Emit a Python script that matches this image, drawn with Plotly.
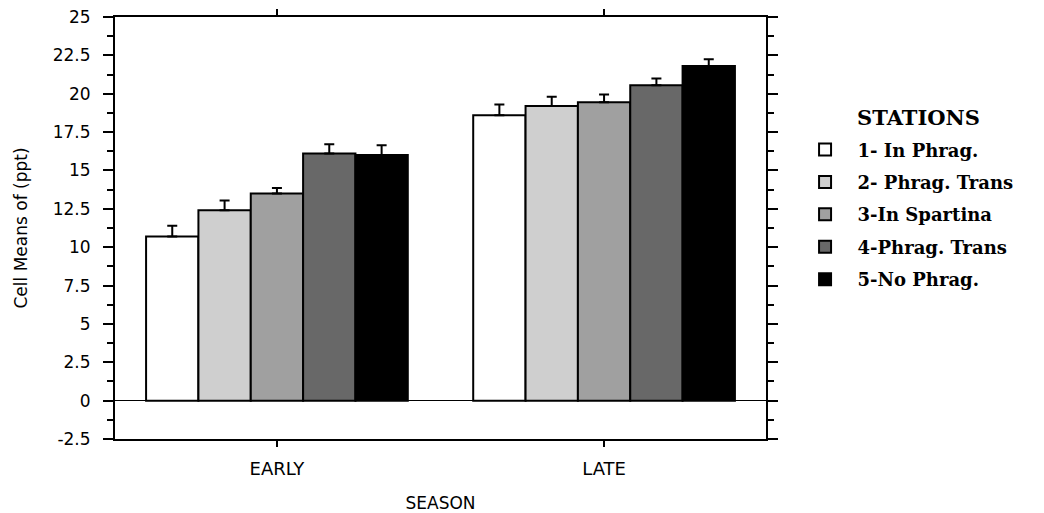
import plotly.graph_objects as go

seasons = ["EARLY", "LATE"]
stations = ["1- In Phrag.", "2- Phrag. Trans", "3-In Spartina", "4-Phrag. Trans", "5-No Phrag."]
early_means = [10.7, 12.4, 13.5, 16.1, 16.0]
late_means = [18.6, 19.2, 19.45, 20.55, 21.8]
early_err = [0.7, 0.65, 0.35, 0.6, 0.65]
late_err = [0.7, 0.6, 0.5, 0.45, 0.45]
colors = ["#ffffff", "#cfcfcf", "#a0a0a0", "#686868", "#000000"]
ytick_vals = [-2.5, 0, 2.5, 5, 7.5, 10, 12.5, 15, 17.5, 20, 22.5, 25]
ytick_text = ["-2.5", "0", "2.5", "5", "7.5", "10", "12.5", "15", "17.5", "20", "22.5", "25"]

fig = go.Figure()
for i, name in enumerate(stations):
    fig.add_trace(go.Bar(
        x=seasons, y=[early_means[i], late_means[i]],
        name="\u00a0\u00a0" + name, legendgroup=f"g{i}",
        marker=dict(color=colors[i], line=dict(color="black", width=2)),
        error_y=dict(type="data", symmetric=False, array=[early_err[i], late_err[i]],
                     arrayminus=[0, 0], color="black", thickness=2, width=5),
    ))

axis_font = "DejaVu Sans"
fig.update_layout(
    width=1044, height=513,
    margin=dict(l=115, r=278, t=17, b=74, autoexpand=False),
    paper_bgcolor="white", plot_bgcolor="white",
    barmode="group", bargap=0.2, bargroupgap=0,
    font=dict(family=axis_font, color="black", size=15),
    showlegend=True,
    legend=dict(
        x=1.06, y=0.729, xanchor="left", yanchor="top",
        font=dict(family="DejaVu Serif", size=18, color="black", weight="bold"),
        itemsizing="constant", tracegroupgap=6,
    ),
    xaxis=dict(
        range=[-0.495, 1.495], showline=True, linecolor="black", linewidth=2, mirror="ticks",
        ticks="outside", ticklen=6, tickwidth=1.5, tickcolor="black", ticklabelstandoff=6,
        automargin=False,
        title=dict(text="SEASON", font=dict(family=axis_font, size=17, color="black"), standoff=20),
        tickfont=dict(family=axis_font, size=18, color="black"),
    ),
    yaxis=dict(
        range=[-2.5, 25], tickvals=ytick_vals, ticktext=ytick_text,
        showline=True, linecolor="black", linewidth=2,
        mirror="ticks", ticks="outside", ticklen=10, tickwidth=1.5, tickcolor="black",
        ticklabelstandoff=9, automargin=False,
        showgrid=False, zeroline=True, zerolinecolor="black", zerolinewidth=1.2,
        title=dict(text="Cell Means of (ppt)", font=dict(family=axis_font, size=17, color="black"), standoff=21),
        tickfont=dict(family=axis_font, size=17, color="black"),
        minor=dict(dtick=1.25, ticks="outside", ticklen=6, tickwidth=1.5, tickcolor="black", showgrid=False),
    ),
    annotations=[dict(
        text="<b>STATIONS</b>", xref="paper", yref="paper", x=1.1367, y=0.762,
        xanchor="left", yanchor="middle", showarrow=False,
        font=dict(family="DejaVu Serif", size=21, color="black"),
    )],
)

fig.write_html("out.html")
